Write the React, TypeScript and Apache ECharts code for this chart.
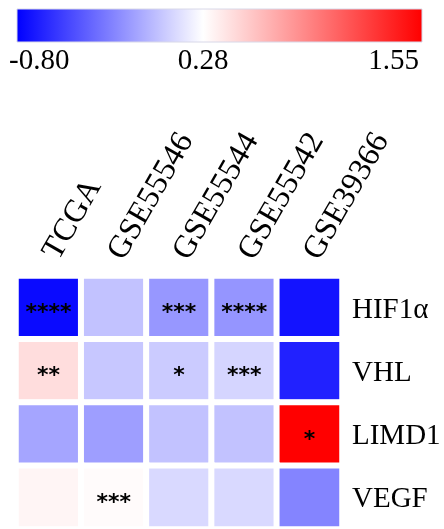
import React, { useEffect, useRef } from "react";
import * as echarts from "echarts";

const datasets = ["TCGA", "GSE55546", "GSE55544", "GSE55542", "GSE39366"];
const genes = ["HIF1α", "VHL", "LIMD1", "VEGF"];

// values per gene (row), per dataset (column)
const hif1aValues = [-0.76, 0.02, -0.16, -0.17, -0.72];
const vhlValues = [0.45, 0.04, 0.06, 0.1, -0.66];
const limd1Values = [-0.1, -0.13, 0.02, 0.02, 1.55];
const vegfValues = [0.33, 0.3, 0.12, 0.12, -0.24];

const hif1aSig = ["****", "", "***", "****", ""];
const vhlSig = ["**", "", "*", "***", ""];
const limd1Sig = ["", "", "", "", "*"];
const vegfSig = ["", "***", "", "", ""];

const scaleTicks = [-0.8, 0.28, 1.55];

const rowValues = [hif1aValues, vhlValues, limd1Values, vegfValues];
const rowSig = [hif1aSig, vhlSig, limd1Sig, vegfSig];

const vMin = scaleTicks[0];
const vMid = scaleTicks[1];
const vMax = scaleTicks[2];

function colorFor(v: number): string {
  if (v <= vMid) {
    const t = Math.min(1, Math.max(0, (vMid - v) / (vMid - vMin)));
    const c = Math.round(255 * (1 - t));
    return `rgb(${c},${c},255)`;
  }
  const t = Math.min(1, Math.max(0, (v - vMid) / (vMax - vMid)));
  const c = Math.round(255 * (1 - t));
  return `rgb(255,${c},${c})`;
}

export default function App() {
  const ref = useRef<HTMLDivElement>(null);
  useEffect(() => {
    if (!ref.current) return;
    const chart = echarts.init(ref.current, null, { renderer: "svg" });
    const data: any[] = [];
    rowValues.forEach((row, yi) => {
      row.forEach((v, xi) => {
        data.push({ value: [xi, yi, v], sig: rowSig[yi][xi] });
      });
    });
    const steps = 94;
    const stops: string[] = [];
    for (let i = 0; i <= steps; i++) {
      stops.push(colorFor(vMin + ((vMax - vMin) * i) / steps));
    }
    const serif = "'Liberation Serif', 'Times New Roman', serif";
    const barX = 17;
    const barW = 405;
    const midFrac = (vMid - vMin) / (vMax - vMin);
    chart.setOption({
      animation: false,
      visualMap: {
        show: false,
        type: "continuous",
        min: vMin,
        max: vMax,
        dimension: 2,
        inRange: { color: stops },
      },
      grid: { left: 16, top: 276, width: 326, height: 259, containLabel: false },
      xAxis: {
        type: "category",
        data: datasets,
        position: "top",
        axisLine: { show: false },
        axisTick: { show: false },
        splitLine: { show: false },
        axisLabel: {
          rotate: -60,
          margin: 20,
          fontSize: 32,
          fontFamily: serif,
          color: "#000",
          interval: 0,
        },
      },
      yAxis: {
        type: "category",
        data: genes,
        inverse: true,
        position: "right",
        axisLine: { show: false },
        axisTick: { show: false },
        splitLine: { show: false },
        axisLabel: {
          margin: 10,
          fontSize: 29,
          fontFamily: serif,
          color: "#000",
        },
      },
      series: [
        {
          type: "heatmap",
          data,
          itemStyle: { borderColor: "#fff", borderWidth: 6 },
          label: {
            show: true,
            formatter: (p: any) => p.data.sig,
            fontFamily: "'DejaVu Sans', sans-serif",
            fontWeight: "bold",
            fontSize: 22,
            color: "#000",
            offset: [0, 4],
          },
          emphasis: { disabled: true },
        },
      ],
      graphic: [
        {
          type: "rect",
          shape: { x: barX, y: 9, width: barW, height: 33 },
          style: {
            fill: new echarts.graphic.LinearGradient(0, 0, 1, 0, [
              { offset: 0, color: "#0000ff" },
              { offset: midFrac, color: "#ffffff" },
              { offset: 1, color: "#ff0000" },
            ]),
            stroke: "#d8d8e8",
            lineWidth: 1,
          },
        },
        ...scaleTicks.map((t, i) => ({
          type: "text",
          x: i === 0 ? 9 : i === 2 ? 419 : barX + ((t - vMin) / (vMax - vMin)) * barW,
          y: 44,
          style: {
            text: t.toFixed(2),
            font: `29px ${serif}`,
            fill: "#000",
            textAlign: i === 0 ? "left" : i === 2 ? "right" : "center",
            textVerticalAlign: "top",
          },
        })),
      ],
    });
    return () => chart.dispose();
  }, []);
  return (
    <div
      ref={ref}
      style={{ position: "fixed", left: 0, top: 0, width: 444, height: 529 }}
    />
  );
}
